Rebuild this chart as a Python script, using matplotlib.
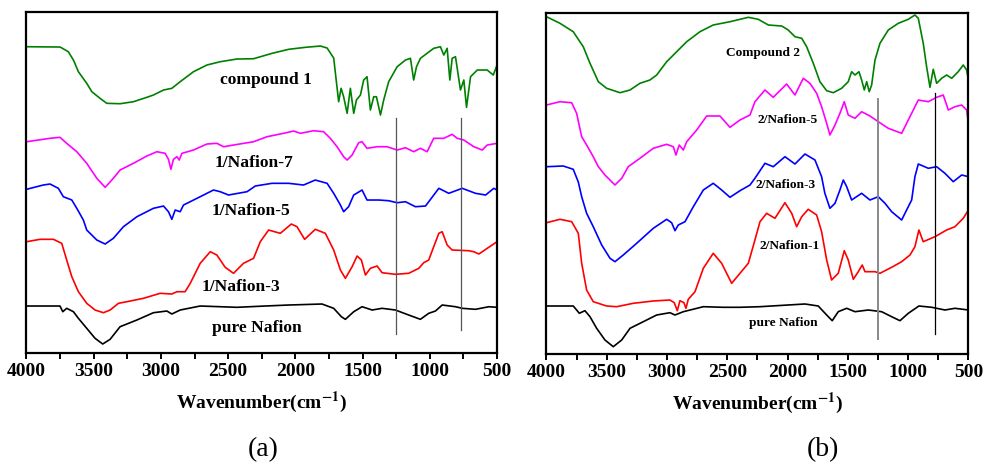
import numpy as np
import matplotlib
matplotlib.use("Agg")
import matplotlib.pyplot as plt
from matplotlib.ticker import MultipleLocator

plt.rcParams['font.family'] = ['Liberation Serif', 'DejaVu Serif']
plt.rcParams['mathtext.fontset'] = 'stix'

# ---- panel (a) : wavenumber (cm-1) / transmittance (a.u., offset) ----
c1_wn = [4000, 3750, 3689, 3651, 3614, 3552, 3514, 3453, 3403, 3304, 3205, 3105, 3056, 2981,
         2919, 2857, 2758, 2658, 2559, 2435, 2311, 2173, 2050, 1926, 1814, 1764, 1715, 1678,
         1660, 1641, 1615, 1591, 1566, 1546, 1516, 1492, 1467, 1442, 1417, 1397, 1367, 1343,
         1306, 1243, 1181, 1144, 1120, 1099, 1070, 971, 921, 896, 871, 851, 834, 809, 772,
         747, 727, 697, 647, 573, 528, 500]
c1_t = [306.3, 306, 301.3, 293, 281.3, 269.7, 261.3, 254.7, 249.7, 249.3, 251.3, 255.7, 258, 263,
        264.7, 271.3, 281.3, 288, 291.3, 294, 294.3, 299.7, 303.7, 305.7, 307, 305, 295, 251.3,
        264.7, 256.3, 239.7, 264.7, 239.7, 253, 258, 273, 276.3, 243, 256.3, 256.3, 238, 253,
        271.3, 286.3, 293, 294.7, 273, 286.3, 294.7, 304.7, 306.3, 298, 304.7, 273, 294.7, 296.3, 263,
        273, 245.7, 276.3, 283, 283, 278, 288]

n7_wn = [4000, 3825, 3751, 3701, 3626, 3552, 3477, 3415, 3354, 3304, 3205, 3105, 3030, 2969,
         2944, 2926, 2907, 2881, 2864, 2844, 2758, 2658, 2584, 2534, 2460, 2311, 2211, 2088,
         2013, 1963, 1864, 1790, 1740, 1690, 1641, 1615, 1578, 1529, 1504, 1467, 1392, 1318,
         1243, 1181, 1120, 1070, 1020, 971, 896, 834, 796, 747, 673, 610, 573, 500]
n7_t = [211.3, 214.7, 215.7, 209.7, 201.3, 189.7, 174.7, 165.7, 174.7, 183, 189.7, 197, 201.3, 199.7,
        193.7, 183.7, 193.7, 196.3, 193, 199.7, 203, 209, 209.7, 206.3, 208, 211.3, 216.3, 219.7,
        222, 219.7, 222.3, 221.3, 214.7, 206.3, 196.3, 193, 198, 210.3, 211.3, 204.7, 206.3, 206.3,
        203, 205.3, 201.3, 204.7, 201.3, 214.7, 214.7, 218.7, 214.7, 213, 206.3, 203, 208, 209.7]

n5_wn = [4000, 3875, 3825, 3763, 3726, 3663, 3626, 3577, 3552, 3477, 3415, 3354, 3279, 3179,
         3056, 2981, 2944, 2919, 2894, 2857, 2832, 2708, 2609, 2559, 2497, 2360, 2298, 2174,
         2050, 1939, 1852, 1764, 1715, 1665, 1641, 1604, 1566, 1504, 1467, 1380, 1306, 1243,
         1181, 1107, 1032, 933, 859, 759, 660, 585, 524, 500]
n5_t = [163.7, 168, 169, 164.7, 156.3, 153, 144.7, 133, 123, 113, 109, 114.7, 126.3, 136.3,
        144.7, 147, 141.3, 133.7, 143, 141.3, 148, 156.3, 163, 161.3, 158, 161.3, 167, 169.7,
        169.7, 168, 173, 169.7, 159.7, 148, 141.3, 146.3, 158, 163, 153, 153, 152.3, 150.3,
        151.3, 146.3, 147, 164.7, 159.7, 164.7, 159.7, 158, 164.7, 163]

n3_wn = [4000, 3899, 3800, 3738, 3701, 3663, 3614, 3552, 3490, 3428, 3378, 3316, 3254, 3130,
         3006, 2919, 2881, 2820, 2782, 2708, 2633, 2584, 2522, 2460, 2386, 2311, 2261, 2199,
         2112, 2030, 1988, 1931, 1852, 1777, 1715, 1665, 1628, 1578, 1541, 1509, 1479, 1442,
         1392, 1355, 1256, 1157, 1082, 1045, 1008, 971, 933, 908, 871, 834, 710, 673, 635,
         573, 500]
n3_t = [111.3, 113.7, 113.7, 109.7, 93, 76.3, 61.3, 49.7, 43, 40.3, 43, 49.7, 51.3, 54.7,
        59.7, 59, 61.3, 61.3, 69.7, 89.7, 101.3, 98, 85.7, 79.7, 89.7, 94.7, 111.3, 123,
        119.7, 129, 126.3, 113.7, 123.7, 119.7, 103, 83, 74.7, 86.3, 97, 93, 78, 84.7,
        87, 80.3, 78.7, 79.7, 84.7, 90.3, 93, 106.3, 119.7, 121.3, 108, 103, 102.3, 101.3, 99,
        104.7, 111.3]

pa_wn = [4000, 3850, 3751, 3730, 3701, 3651, 3614, 3552, 3490, 3433, 3378, 3304, 3179, 3056,
         2956, 2919, 2857, 2708, 2559, 2435, 2224, 2050, 1802, 1715, 1658, 1628, 1566, 1504,
         1429, 1355, 1256, 1157, 1070, 1008, 958, 908, 809, 759, 660, 561, 500]
pa_t = [47, 47, 47, 41.3, 44.7, 41.3, 34.7, 24.7, 14.7, 9, 13.7, 26.3, 33, 40.3,
        42, 39, 43, 47, 46.3, 45.7, 47, 48, 49, 44.7, 36.3, 33.7, 41.3, 46.3,
        43, 44.7, 43, 38, 33.7, 39.7, 42, 48, 46.3, 44.7, 43.7, 46.3, 45.7]

# ---- panel (b) ----
c2_wn = [4000, 3888, 3778, 3695, 3639, 3570, 3501, 3390, 3307, 3225, 3142, 3086, 3003, 2920,
         2837, 2727, 2617, 2478, 2395, 2326, 2243, 2160, 2049, 1995, 1939, 1883, 1842, 1787,
         1732, 1676, 1621, 1552, 1497, 1469, 1441, 1408, 1386, 1364, 1344, 1323, 1303, 1275,
         1234, 1165, 1082, 999, 944, 916, 875, 847, 819, 792, 764, 722, 681, 639, 585, 543,
         515, 500]
c2_t = [337.3, 330.7, 322.3, 307.3, 290.7, 272.3, 265.7, 261.3, 264, 270.7, 274, 279, 292.3, 302.3,
        312.3, 322.3, 329, 332.3, 334.7, 336.7, 334.7, 329, 328, 324, 317.3, 315.7, 307.3, 290.7,
        272.3, 263.3, 261.3, 265.7, 272.3, 282.3, 279, 282.3, 274, 264, 272.3, 262.3, 269, 294,
        310.7, 324, 330.7, 334.7, 339, 335.7, 310.7, 287.3, 266.7, 284.7, 270.7, 275.7, 279, 275.7, 282.3, 289,
        284, 274]

m5_wn = [4000, 3888, 3791, 3750, 3708, 3667, 3612, 3570, 3515, 3432, 3376, 3322, 3225, 3114,
         3003, 2948, 2926, 2899, 2865, 2837, 2754, 2671, 2561, 2478, 2395, 2312, 2271, 2188,
         2119, 2008, 1939, 1870, 1815, 1759, 1718, 1676, 1649, 1607, 1566, 1530, 1497, 1441,
         1386, 1317, 1248, 1165, 1054, 999, 916, 833, 764, 709, 667, 612, 556, 515, 500]
m5_t = [249, 252.3, 251.3, 240.7, 217.3, 209, 197.3, 187.3, 179, 169, 175.7, 187.3, 195.7, 205.7,
        209.7, 207.3, 199, 209, 204, 212.3, 224, 238, 238, 226.7, 234, 239, 252.3, 264,
        256.7, 270, 259, 275.7, 270.7, 260.7, 247.3, 230.7, 219, 229, 240.7, 252.3, 239, 235.7,
        242.3, 238, 232.3, 225.7, 220.7, 234, 254, 252.3, 256.7, 259, 244, 247.3, 249, 244, 230.7]

m3_wn = [4000, 3861, 3778, 3736, 3708, 3667, 3612, 3542, 3473, 3432, 3363, 3252, 3114, 3003,
         2962, 2934, 2907, 2851, 2782, 2699, 2617, 2547, 2478, 2395, 2312, 2271, 2188, 2119,
         2022, 1939, 1856, 1773, 1718, 1691, 1649, 1607, 1566, 1538, 1510, 1469, 1386, 1317,
         1248, 1192, 1137, 1054, 1013, 971, 944, 916, 833, 764, 695, 626, 556, 500]
m3_t = [187.3, 188, 184.7, 172, 157.3, 140.7, 127.3, 109, 95.7, 92.3, 99, 110.7, 125.7, 134.7,
        131.3, 123.3, 129, 132.3, 147.3, 164, 170.7, 164, 156.7, 163.3, 169, 175.7, 190.7, 187.3,
        197.3, 190, 200, 194, 177.3, 160.7, 145.7, 150.7, 164, 174, 167.3, 154, 160.7, 154,
        157.3, 150.7, 142.3, 134, 144, 154, 177.3, 190, 185.7, 187.3, 180.7, 172.3, 179, 177.3]

m1_wn = [4000, 3888, 3791, 3736, 3708, 3667, 3612, 3501, 3418, 3280, 3114, 2976, 2940, 2915,
         2893, 2860, 2843, 2824, 2768, 2699, 2617, 2547, 2464, 2395, 2326, 2271, 2229, 2174,
         2105, 2022, 1966, 1925, 1883, 1829, 1759, 1718, 1676, 1635, 1580, 1530, 1497, 1455,
         1414, 1381, 1358, 1275, 1234, 1137, 1054, 985, 944, 911, 875, 778, 681, 612, 543, 500]
m1_t = [131.3, 134.7, 132.3, 120.7, 90.7, 64, 52.3, 48, 47.3, 50.7, 53, 54, 51.3, 43.3,
        53.3, 51.3, 45.7, 54.7, 62.3, 85.7, 100.7, 90.7, 70.7, 80.7, 90.7, 114, 132.3, 140.7,
        135.7, 151.3, 140.7, 127.3, 137.3, 144.7, 139, 122.3, 94, 74, 80.7, 103.3, 94, 74.7,
        82.3, 89, 82.3, 82.3, 80.7, 86.7, 92.3, 99, 107.3, 124, 112.3, 117.3, 124, 127.3, 135.7, 144]

pb_wn = [4000, 3778, 3750, 3728, 3681, 3639, 3584, 3515, 3446, 3376, 3307, 3197, 3086, 2976,
         2934, 2865, 2699, 2534, 2395, 2229, 1995, 1856, 1746, 1676, 1630, 1580, 1510, 1441,
         1331, 1220, 1137, 1068, 999, 911, 805, 695, 612, 500]
pb_t = [48, 48, 44, 40.7, 43.3, 37.3, 25.7, 14, 7.3, 14, 25.7, 32.3, 39, 41.3,
        39, 42.3, 47.3, 46.7, 46.7, 47.3, 49, 50, 48, 39, 33.3, 42.3, 45.7, 42.3,
        44, 42.3, 37.3, 33.3, 40.7, 48, 46.7, 44, 45.7, 44]

labels_a = ['compound 1', '1/Nafion-7', '1/Nafion-5', '1/Nafion-3', 'pure Nafion']
labels_b = ['Compound 2', '2/Nafion-5', '2/Nafion-3', '2/Nafion-1', 'pure Nafion']
colors = ['green', '#ff00ff', '#0000ff', '#ff0000', 'black']

# marker lines (wavenumber, y bottom, y top)
marks_a = [(1250, 19, 235), (765, 23, 235)]
marks_b = [(1252, 15, 255), (776, 20, 261)]

fig = plt.figure(figsize=(9.85, 4.68), dpi=100)
ax_a = fig.add_axes([0.0269, 0.2457, 0.4777, 0.7286])
ax_b = fig.add_axes([0.5548, 0.2436, 0.4284, 0.7286])

series_a = [(c1_wn, c1_t), (n7_wn, n7_t), (n5_wn, n5_t), (n3_wn, n3_t), (pa_wn, pa_t)]
series_b = [(c2_wn, c2_t), (m5_wn, m5_t), (m3_wn, m3_t), (m1_wn, m1_t), (pb_wn, pb_t)]

for (x, y), c in zip(series_a, colors):
    ax_a.plot(x, y, color=c, lw=1.2)
for (x, y), c in zip(series_b, colors):
    ax_b.plot(x, y, color=c, lw=1.2)

for wn, y0, y1 in marks_a:
    ax_a.plot([wn, wn], [y0, y1], color='#555555', lw=0.9)
ax_b.plot([marks_b[0][0]] * 2, marks_b[0][1:], color='#888888', lw=1.4)
ax_b.plot([marks_b[1][0]] * 2, marks_b[1][1:], color='black', lw=0.9)

# label positions (wavenumber, y)
pos_a = [(2219, 273), (2306, 189.7), (2330, 142.3), (2405, 65.7), (2286, 24.7)]
pos_b = [(2202, 301.3), (2000, 234), (2014, 169), (1980, 108), (2036, 31.3)]
for t, (x, y) in zip(labels_a, pos_a):
    ax_a.text(x, y, t, ha='center', va='center', fontsize=12.6, fontweight='bold')
for t, (x, y) in zip(labels_b, pos_b):
    ax_b.text(x, y, t, ha='center', va='center', fontsize=9.6, fontweight='bold')

for ax in (ax_a, ax_b):
    ax.set_xlim(4000, 500)
    ax.set_ylim(0, 341)
    ax.set_yticks([])
    ax.xaxis.set_major_locator(MultipleLocator(500))
    ax.xaxis.set_minor_locator(MultipleLocator(250))
    ax.tick_params(axis='x', which='both', direction='out', length=4, width=1.4, pad=3,
                   labelsize=14)
    for lab in ax.get_xticklabels():
        lab.set_fontweight('bold')
    for s in ax.spines.values():
        s.set_linewidth(1.6)
    ax.set_xlabel(r'Wavenumber(cm$^{\mathbf{-1}}$)', fontsize=14, fontweight='bold',
                  labelpad=7)

fig.text(263.3 / 985, 1 - 450 / 468, '(a)', ha='center', va='center', fontsize=20)
fig.text(823 / 985, 1 - 450 / 468, '(b)', ha='center', va='center', fontsize=20)

fig.savefig('out.png', dpi=100)
